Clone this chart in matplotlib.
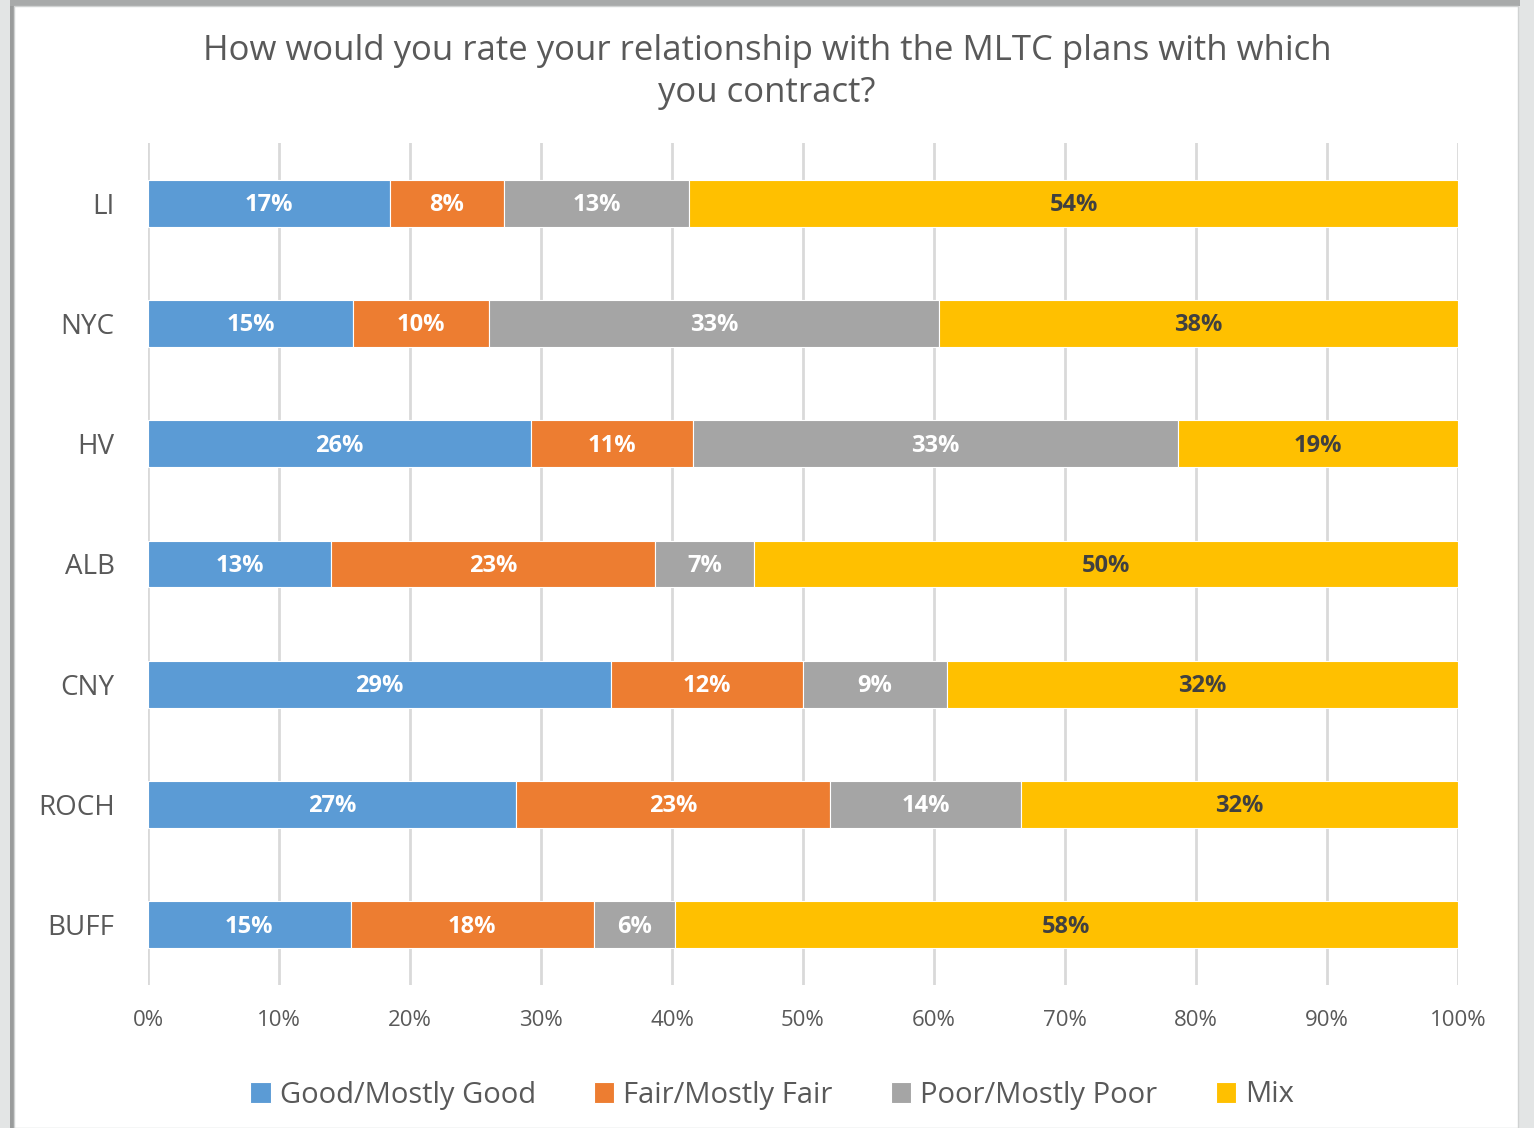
import matplotlib
matplotlib.use("Agg")
import matplotlib.pyplot as plt
import numpy as np
from matplotlib.patches import Rectangle

plt.rcParams['font.family'] = ['Open Sans', 'DejaVu Sans']

regions = ["LI", "NYC", "HV", "ALB", "CNY", "ROCH", "BUFF"]
series_names = ["Good/Mostly Good", "Fair/Mostly Fair", "Poor/Mostly Poor", "Mix"]
good = [17, 15, 26, 13, 29, 27, 15]
fair = [8, 10, 11, 23, 12, 23, 18]
poor = [13, 33, 33, 7, 9, 14, 6]
mix = [54, 38, 19, 50, 32, 32, 58]
xticks = [0, 10, 20, 30, 40, 50, 60, 70, 80, 90, 100]

colors = ["#5B9BD5", "#ED7D31", "#A5A5A5", "#FFC000"]
label_colors = ["white", "white", "white", "#404040"]

W, H = 1534, 1128
fig = plt.figure(figsize=(W / 100, H / 100), dpi=100)
fig.patch.set_facecolor("#e3e5e5")
# white chart panel with shadowed edge
fig.patches.append(Rectangle((10 / W, 0), 4 / W, 1 - 3 / H, transform=fig.transFigure,
                             facecolor="#9a9c9c", edgecolor="none", zorder=-10))
fig.patches.append(Rectangle((10 / W, 1 - 6 / H), 1510 / W, 6 / H, transform=fig.transFigure,
                             facecolor="#a8aaaa", edgecolor="none", zorder=-10))
fig.patches.append(Rectangle((14 / W, 0), 1504 / W, 1 - 6 / H, transform=fig.transFigure,
                             facecolor="white", edgecolor="#d0d2d2", lw=1, zorder=-9))

ax = fig.add_axes([148 / W, 1 - 985 / H, (1458 - 148) / W, (985 - 143) / H])
ax.set_facecolor("none")

data = np.array([good, fair, poor, mix], dtype=float)
totals = data.sum(axis=0)
norm = data / totals * 100
y = np.arange(len(regions))
left = np.zeros(len(regions))
for i in range(4):
    ax.barh(y, norm[i], left=left, height=0.39, color=colors[i],
            edgecolor="white", linewidth=0.8, label=series_names[i], zorder=3)
    for j in range(len(regions)):
        ax.text(left[j] + norm[i][j] / 2, y[j] + 0.015, f"{data[i][j]:.0f}%",
                ha="center", va="center", color=label_colors[i],
                fontsize=17, fontweight="bold", zorder=4)
    left += norm[i]

ax.set_xlim(0, 100)
ax.set_ylim(len(regions) - 0.5, -0.5)
ax.set_yticks(y)
ax.set_yticklabels(regions, fontsize=20, color="#595959")
ax.set_xticks(xticks)
ax.set_xticklabels([f"{t}%" for t in xticks], fontsize=16, color="#595959")
ax.tick_params(axis="y", length=0, pad=24)
ax.tick_params(axis="x", length=0, pad=18)
ax.grid(axis="x", color="#d9d9d9", linewidth=2, zorder=0)
for s in ax.spines.values():
    s.set_visible(False)

fig.text(767 / W, 1 - 51 / H, "How would you rate your relationship with the MLTC plans with which",
         ha="center", va="center", fontsize=25, color="#595959")
fig.text(767 / W, 1 - 93 / H, "you contract?",
         ha="center", va="center", fontsize=25, color="#595959")

handles, labels = ax.get_legend_handles_labels()
leg = fig.legend(handles, labels, loc="center", bbox_to_anchor=(772 / W, 1 - 1095 / H),
                 ncol=4, frameon=False, fontsize=21, handlelength=0.7, handleheight=0.7,
                 handletextpad=0.3, columnspacing=2.0, labelcolor="#595959")

fig.savefig("out.png", dpi=100, facecolor=fig.get_facecolor())
